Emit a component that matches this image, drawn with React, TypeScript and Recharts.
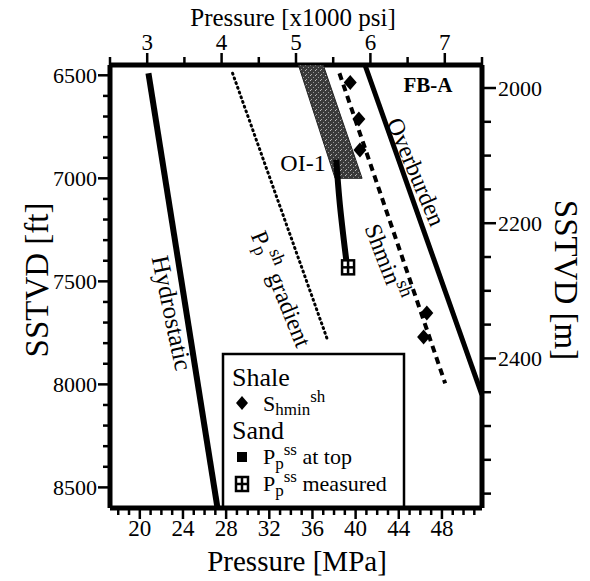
import React from 'react';
import { ScatterChart, Scatter, XAxis, YAxis } from 'recharts';

// pressure in MPa, depth in ft
const hydrostatic = [
	{ p: 20.8, d: 6490 },
	{ p: 27.2, d: 8600 },
];
const ppShGradient = [
	{ p: 28.6, d: 6490 },
	{ p: 37.4, d: 7785 },
];
const overburden = [
	{ p: 40.9, d: 6455 },
	{ p: 51.7, d: 8050 },
];
const shminTrend = [
	{ p: 38.5, d: 6490 },
	{ p: 48.3, d: 7995 },
];
const shminPoints = [
	{ p: 39.5, d: 6535 },
	{ p: 40.3, d: 6712 },
	{ p: 40.4, d: 6863 },
	{ p: 46.6, d: 7654 },
	{ p: 46.3, d: 7770 },
];
const oi1Zone = [
	{ p: 34.7, d: 6450 },
	{ p: 37.0, d: 6450 },
	{ p: 40.6, d: 7000 },
	{ p: 38.1, d: 7000 },
];
const ppSsTop = [
	{ p: 38.2, d: 6910 },
	{ p: 38.5, d: 7105 },
	{ p: 39.2, d: 7425 },
];
const ppSsMeasured = [{ p: 39.3, d: 7432 }];

const mpaTicks = [18, 19, 20, 21, 22, 23, 24, 25, 26, 27, 28, 29, 30, 31, 32, 33, 34, 35, 36, 37, 38, 39, 40, 41, 42, 43, 44, 45, 46, 47, 48, 49, 50, 51];
const mpaLabels = [20, 24, 28, 32, 36, 40, 44, 48];
const psiTicks = [2500, 3000, 3500, 4000, 4500, 5000, 5500, 6000, 6500, 7000, 7500];
const psiLabels = [3000, 4000, 5000, 6000, 7000];
const ftTicks = [6500, 6600, 6700, 6800, 6900, 7000, 7100, 7200, 7300, 7400, 7500, 7600, 7700, 7800, 7900, 8000, 8100, 8200, 8300, 8400, 8500];
const ftLabels = [6500, 7000, 7500, 8000, 8500];
const mTicks = [2000, 2050, 2100, 2150, 2200, 2250, 2300, 2350, 2400, 2450, 2500, 2550, 2600];
const mLabels = [2000, 2200, 2400];

const MPA_PER_PSI = 0.006895;
const M_PER_FT = 0.3048;
const psiDomain = [2500, 7500];
const mpaDomain = [psiDomain[0] * MPA_PER_PSI, psiDomain[1] * MPA_PER_PSI];
const ftDomain = [6450, 8600];
const mDomain = [ftDomain[0] * M_PER_FT, ftDomain[1] * M_PER_FT];

const font = "'Liberation Serif', 'Times New Roman', serif";
const frame = { stroke: '#000', strokeWidth: 5 };
const txt = { fontFamily: font, fill: '#000' };

const MpaTick = ({ x, y, payload }: any) => {
	const major = mpaLabels.includes(payload.value);
	return (
		<g>
			<line x1={x} x2={x} y1={y} y2={y + (major ? 11 : 7)} stroke="#000" strokeWidth={2.5} />
			{major && (
				<text x={x} y={y + 28} textAnchor="middle" fontSize={23} style={txt}>
					{payload.value}
				</text>
			)}
		</g>
	);
};

const PsiTick = ({ x, y, payload }: any) => {
	const major = psiLabels.includes(payload.value);
	return (
		<g>
			<line x1={x} x2={x} y1={y} y2={y - (major ? 12 : 8)} stroke="#000" strokeWidth={2.5} />
			{major && (
				<text x={x} y={y - 15} textAnchor="middle" fontSize={23} style={txt}>
					{payload.value / 1000}
				</text>
			)}
		</g>
	);
};

const FtTick = ({ x, y, payload }: any) => {
	const major = ftLabels.includes(payload.value);
	return (
		<g>
			<line x1={x} x2={x - (major ? 12 : 7)} y1={y} y2={y} stroke="#000" strokeWidth={2.5} />
			{major && (
				<text x={x - 13} y={y} textAnchor="end" dominantBaseline="central" fontSize={22} style={txt}>
					{payload.value}
				</text>
			)}
		</g>
	);
};

const MTick = ({ x, y, payload }: any) => {
	const major = mLabels.includes(payload.value);
	return (
		<g>
			<line x1={x} x2={x + (major ? 14 : 9)} y1={y} y2={y} stroke="#000" strokeWidth={2.5} />
			{major && (
				<text x={x + 16} y={y} textAnchor="start" dominantBaseline="central" fontSize={22} style={txt}>
					{payload.value}
				</text>
			)}
		</g>
	);
};

const Diamond = ({ cx, cy }: any) => (
	<path d={`M${cx},${cy - 7.5} L${cx + 6.5},${cy} L${cx},${cy + 7.5} L${cx - 6.5},${cy} Z`} fill="#000" />
);

const GridSquare = ({ cx, cy }: any) => (
	<g>
		<rect x={cx - 6} y={cy - 7} width={12} height={14} fill="#fff" stroke="#000" strokeWidth={2.5} />
		<line x1={cx} x2={cx} y1={cy - 7} y2={cy + 7} stroke="#000" strokeWidth={2.5} />
		<line x1={cx - 6} x2={cx + 6} y1={cy} y2={cy} stroke="#000" strokeWidth={2.5} />
	</g>
);

const NoDot = () => <g />;

const ZonePolygon = (props: any) => {
	const pts = props.points || [];
	const d = pts.map((pt: any, i: number) => `${i ? 'L' : 'M'}${pt.x},${pt.y}`).join(' ') + ' Z';
	return <path d={d} fill="url(#stipple)" stroke="#222" strokeWidth={1} />;
};

const App: React.FC = () => {
	return (
		<div style={{ position: 'absolute', left: 0, top: 0, background: '#fff' }}>
			<ScatterChart width={590} height={581} margin={{ top: 0, right: 0, bottom: 0, left: 0 }}>
				<defs>
					<pattern id="stipple" width={5} height={5} patternUnits="userSpaceOnUse">
						<rect width={5} height={5} fill="#3a3a3a" />
						<rect x={0} y={0} width={1} height={1} fill="#bbb" />
						<rect x={3} y={2} width={1} height={1} fill="#999" />
						<rect x={1} y={4} width={1} height={1} fill="#aaa" />
					</pattern>
				</defs>
				<XAxis
					xAxisId="mpa"
					type="number"
					dataKey="p"
					orientation="bottom"
					domain={mpaDomain}
					allowDataOverflow
					height={73}
					ticks={mpaTicks}
					interval={0}
					tickSize={0}
					tickMargin={0}
					tickLine={false}
					tick={<MpaTick />}
					axisLine={frame}
				/>
				<XAxis
					xAxisId="psi"
					type="number"
					dataKey={(e: any) => e.p / MPA_PER_PSI}
					orientation="top"
					domain={psiDomain}
					allowDataOverflow
					height={65}
					ticks={psiTicks}
					interval={0}
					tickSize={0}
					tickMargin={0}
					tickLine={false}
					tick={<PsiTick />}
					axisLine={frame}
				/>
				<YAxis
					yAxisId="ft"
					type="number"
					dataKey="d"
					reversed
					domain={ftDomain}
					allowDataOverflow
					width={110}
					ticks={ftTicks}
					interval={0}
					tickSize={0}
					tickMargin={0}
					tickLine={false}
					tick={<FtTick />}
					axisLine={frame}
				/>
				<YAxis
					yAxisId="m"
					type="number"
					dataKey={(e: any) => e.d * M_PER_FT}
					orientation="right"
					reversed
					domain={mDomain}
					allowDataOverflow
					width={108}
					ticks={mTicks}
					interval={0}
					tickSize={0}
					tickMargin={0}
					tickLine={false}
					tick={<MTick />}
					axisLine={frame}
				/>

				<Scatter xAxisId="mpa" yAxisId="ft" data={oi1Zone} line={ZonePolygon} shape={NoDot} isAnimationActive={false} />
				<Scatter xAxisId="mpa" yAxisId="ft" data={hydrostatic} line={{ stroke: '#000', strokeWidth: 6 }} shape={NoDot} isAnimationActive={false} />
				<Scatter xAxisId="mpa" yAxisId="ft" data={ppShGradient} line={{ stroke: '#000', strokeWidth: 3, strokeDasharray: '1 4', strokeLinecap: 'round' }} shape={NoDot} isAnimationActive={false} />
				<Scatter xAxisId="psi" yAxisId="m" data={overburden} line={{ stroke: '#000', strokeWidth: 5 }} shape={NoDot} isAnimationActive={false} />
				<Scatter xAxisId="mpa" yAxisId="ft" data={shminTrend} line={{ stroke: '#000', strokeWidth: 4, strokeDasharray: '7 5' }} shape={NoDot} isAnimationActive={false} />
				<Scatter xAxisId="psi" yAxisId="ft" data={shminPoints} shape={Diamond} isAnimationActive={false} />
				<Scatter xAxisId="mpa" yAxisId="ft" data={ppSsTop} line={{ stroke: '#000', strokeWidth: 6 }} lineJointType="monotoneY" shape={NoDot} isAnimationActive={false} />
				<Scatter xAxisId="mpa" yAxisId="ft" data={ppSsMeasured} shape={GridSquare} isAnimationActive={false} />

				<g style={txt}>
					<text x={293} y={26} textAnchor="middle" fontSize={25}>Pressure [x1000 psi]</text>
					<text x={297} y={571} textAnchor="middle" fontSize={29}>Pressure [MPa]</text>
					<text transform="translate(37,280) rotate(-90)" textAnchor="middle" dominantBaseline="central" fontSize={33}>SSTVD [ft]</text>
					<text transform="translate(566,280) rotate(90)" textAnchor="middle" dominantBaseline="central" fontSize={33}>SSTVD [m]</text>

					<text x={428} y={92} textAnchor="middle" fontSize={21} fontWeight="bold">FB-A</text>
					<text x={303} y={171} textAnchor="middle" fontSize={24}>OI-1</text>
					<text transform="translate(416,172) rotate(67)" textAnchor="middle" dominantBaseline="central" fontSize={24}>Overburden</text>
					<text transform="translate(386,262) rotate(69)" textAnchor="middle" dominantBaseline="central" fontSize={24}>
						Shmin<tspan dy={-9} fontSize={19}>sh</tspan>
					</text>
					<text transform="translate(281,289) rotate(68)" textAnchor="middle" dominantBaseline="central" fontSize={24}>
						P<tspan dy={5} fontSize={18}>p</tspan>
						<tspan dy={-14} fontSize={18}>sh</tspan>
						<tspan dy={9}> gradient</tspan>
					</text>
					<text transform="translate(172,313) rotate(78)" textAnchor="middle" dominantBaseline="central" fontSize={25}>Hydrostatic</text>

					<rect x={223} y={354} width={181} height={154} fill="#fff" stroke="#000" strokeWidth={2.5} />
					<text x={232} y={386} fontSize={26}>Shale</text>
					<path d="M242,396 L248,403 L242,410 L236,403 Z" fill="#000" />
					<text x={263} y={411} fontSize={22}>
						S<tspan dy={4} fontSize={17}>hmin</tspan>
						<tspan dy={-13} fontSize={17}>sh</tspan>
					</text>
					<text x={232} y={439} fontSize={26}>Sand</text>
					<rect x={237} y={452} width={10} height={10} fill="#000" />
					<text x={263} y={464} fontSize={22}>
						P<tspan dy={5} fontSize={17}>p</tspan>
						<tspan dy={-14} fontSize={17}>ss</tspan>
						<tspan dy={9}> at top</tspan>
					</text>
					<rect x={236} y={477} width={12} height={14} fill="#fff" stroke="#000" strokeWidth={2.5} />
					<line x1={242} x2={242} y1={477} y2={491} stroke="#000" strokeWidth={2.5} />
					<line x1={236} x2={248} y1={484} y2={484} stroke="#000" strokeWidth={2.5} />
					<text x={263} y={491} fontSize={22}>
						P<tspan dy={5} fontSize={17}>p</tspan>
						<tspan dy={-14} fontSize={17}>ss</tspan>
						<tspan dy={9}> measured</tspan>
					</text>
				</g>
			</ScatterChart>
		</div>
	);
};

export default App;
